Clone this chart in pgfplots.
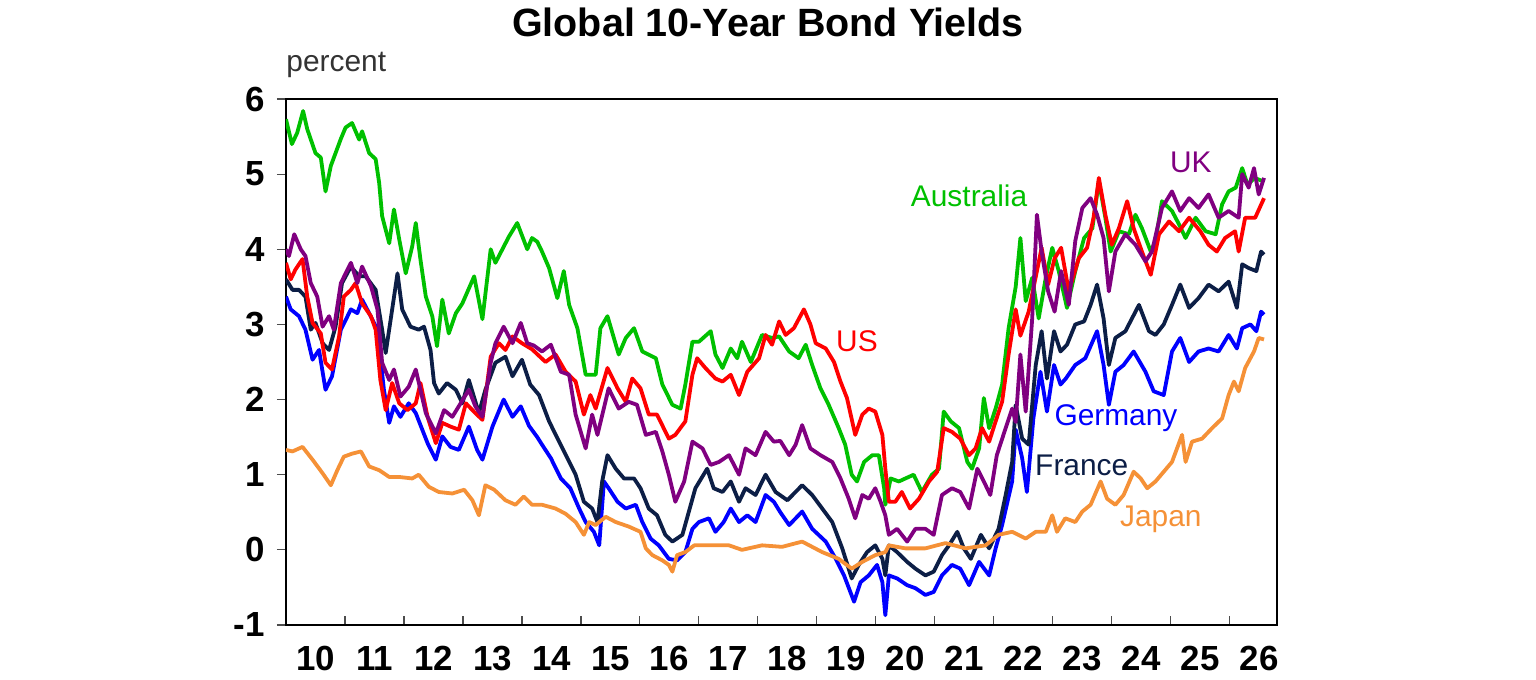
\documentclass[border=0pt]{standalone}
\usepackage{fontspec}
\setmainfont{Liberation Sans}
\usepackage{pgfplots}
\pgfplotsset{compat=1.18}

\definecolor{ausgreen}{RGB}{0,192,0}
\definecolor{usred}{RGB}{255,0,0}
\definecolor{ukpurple}{RGB}{128,0,128}
\definecolor{frnavy}{RGB}{12,30,70}
\definecolor{deblue}{RGB}{0,0,255}
\definecolor{jporange}{RGB}{245,145,55}

\begin{document}
\begin{tikzpicture}
\path[use as bounding box] (-143bp,-27.5bp) rectangle (625bp,312.5bp);

\node[anchor=base, inner sep=0pt, font=\bfseries\fontsize{19.8}{19.8}\selectfont] at (241bp,294bp) {Global 10-Year Bond Yields};
\node[anchor=base west, inner sep=0pt, text=black!80, font=\fontsize{15}{15}\selectfont] at (0bp,276.6bp) {percent};

\begin{axis}[
    scale only axis,
    width=495.5bp, height=263bp,
    at={(0,0)}, anchor=south west,
    xmin=2010, xmax=2026.8,
    ymin=-1, ymax=6,
    axis line style={line width=0.8bp, black},
    xtick={2010,...,2026},
    xticklabels={10,11,12,13,14,15,16,17,18,19,20,21,22,23,24,25,26},
    ytick={-1,0,...,6},
    yticklabels={-1,0,1,2,3,4,5,6},
    xtick pos=bottom, ytick pos=left,
    tick align=inside,
    major tick length=4.5bp,
    tick style={line width=0.6bp, black!70},
    ytick style={xshift=-4.5bp},
    ticklabel style={font=\bfseries\fontsize{17.5}{17.5}\selectfont},
    xticklabel style={xshift=14.75bp, yshift=-7bp},
    yticklabel style={xshift=-7bp},
    every axis plot/.append style={no markers, line width=1.9bp, line join=round},
    clip=true,
]

% Germany
\addplot[deblue] coordinates {(2010.0,3.37)(2010.08,3.2)(2010.22,3.11)(2010.33,2.93)(2010.45,2.53)(2010.56,2.66)(2010.67,2.13)(2010.78,2.31)(2010.93,2.93)(2011.1,3.2)(2011.21,3.15)(2011.29,3.33)(2011.41,3.15)(2011.55,2.93)(2011.66,2.13)(2011.75,1.69)(2011.83,1.91)(2011.94,1.77)(2012.08,1.95)(2012.2,1.82)(2012.4,1.42)(2012.54,1.2)(2012.65,1.51)(2012.79,1.37)(2012.93,1.33)(2013.1,1.64)(2013.24,1.33)(2013.33,1.2)(2013.5,1.64)(2013.69,2.0)(2013.84,1.77)(2013.98,1.91)(2014.12,1.65)(2014.26,1.5)(2014.34,1.4)(2014.49,1.22)(2014.66,0.95)(2014.82,0.82)(2014.97,0.55)(2015.08,0.37)(2015.22,0.24)(2015.31,0.06)(2015.39,0.91)(2015.47,0.82)(2015.62,0.64)(2015.76,0.55)(2015.93,0.6)(2016.04,0.37)(2016.18,0.15)(2016.32,0.06)(2016.49,-0.12)(2016.63,-0.14)(2016.77,-0.03)(2016.89,0.28)(2017.0,0.37)(2017.17,0.42)(2017.28,0.24)(2017.42,0.37)(2017.54,0.55)(2017.68,0.37)(2017.82,0.46)(2017.96,0.37)(2018.13,0.73)(2018.27,0.64)(2018.38,0.5)(2018.53,0.33)(2018.75,0.51)(2018.92,0.28)(2019.15,0.11)(2019.32,-0.12)(2019.46,-0.34)(2019.63,-0.69)(2019.74,-0.43)(2019.88,-0.34)(2020.02,-0.2)(2020.11,-0.43)(2020.16,-0.87)(2020.22,-0.34)(2020.36,-0.38)(2020.53,-0.47)(2020.67,-0.51)(2020.84,-0.6)(2020.98,-0.56)(2021.12,-0.34)(2021.29,-0.2)(2021.43,-0.25)(2021.58,-0.47)(2021.75,-0.16)(2021.92,-0.34)(2022.03,0.02)(2022.14,0.33)(2022.31,0.91)(2022.37,1.6)(2022.48,1.22)(2022.56,0.77)(2022.67,1.75)(2022.79,2.37)(2022.9,1.84)(2023.02,2.46)(2023.13,2.2)(2023.22,2.28)(2023.38,2.46)(2023.55,2.55)(2023.75,2.91)(2023.86,2.46)(2023.95,1.93)(2024.06,2.37)(2024.2,2.46)(2024.37,2.64)(2024.57,2.37)(2024.71,2.11)(2024.88,2.06)(2025.02,2.64)(2025.16,2.82)(2025.31,2.5)(2025.47,2.64)(2025.64,2.68)(2025.81,2.64)(2025.98,2.86)(2026.12,2.68)(2026.21,2.95)(2026.35,3.0)(2026.45,2.91)(2026.53,3.17)(2026.58,3.13)};

% France
\addplot[frnavy] coordinates {(2010.0,3.6)(2010.11,3.46)(2010.22,3.46)(2010.33,3.37)(2010.42,2.93)(2010.5,3.02)(2010.62,2.75)(2010.73,2.66)(2010.84,2.97)(2010.95,3.55)(2011.1,3.77)(2011.24,3.64)(2011.35,3.64)(2011.52,3.46)(2011.63,2.93)(2011.69,2.62)(2011.8,3.2)(2011.89,3.68)(2011.97,3.2)(2012.11,2.97)(2012.25,2.93)(2012.34,2.97)(2012.45,2.66)(2012.51,2.22)(2012.59,2.08)(2012.73,2.22)(2012.88,2.13)(2012.99,1.95)(2013.1,2.26)(2013.27,1.82)(2013.38,2.13)(2013.55,2.49)(2013.72,2.57)(2013.84,2.31)(2014.0,2.53)(2014.14,2.2)(2014.29,2.06)(2014.46,1.71)(2014.63,1.44)(2014.77,1.22)(2014.91,1.0)(2015.05,0.64)(2015.19,0.55)(2015.28,0.37)(2015.36,0.91)(2015.45,1.26)(2015.59,1.08)(2015.73,0.95)(2015.9,0.95)(2016.01,0.82)(2016.15,0.55)(2016.29,0.46)(2016.43,0.2)(2016.55,0.11)(2016.72,0.2)(2016.83,0.51)(2016.94,0.82)(2017.14,1.08)(2017.25,0.82)(2017.4,0.77)(2017.54,0.91)(2017.68,0.64)(2017.79,0.82)(2017.96,0.73)(2018.13,1.0)(2018.3,0.77)(2018.5,0.66)(2018.75,0.86)(2018.92,0.73)(2019.09,0.55)(2019.26,0.37)(2019.43,0.02)(2019.59,-0.38)(2019.71,-0.2)(2019.85,-0.03)(2019.99,0.06)(2020.11,-0.12)(2020.16,-0.34)(2020.22,0.06)(2020.36,-0.03)(2020.53,-0.16)(2020.67,-0.25)(2020.84,-0.34)(2020.98,-0.29)(2021.12,-0.07)(2021.24,0.06)(2021.38,0.24)(2021.49,0.02)(2021.61,-0.12)(2021.78,0.2)(2021.92,0.02)(2022.08,0.28)(2022.2,0.73)(2022.31,1.17)(2022.37,1.93)(2022.48,1.48)(2022.59,1.4)(2022.71,2.46)(2022.81,2.91)(2022.9,2.28)(2023.02,2.91)(2023.13,2.64)(2023.24,2.73)(2023.38,3.0)(2023.53,3.04)(2023.64,3.26)(2023.75,3.53)(2023.86,3.08)(2023.95,2.46)(2024.06,2.82)(2024.23,2.91)(2024.46,3.26)(2024.63,2.91)(2024.74,2.86)(2024.88,3.0)(2025.02,3.26)(2025.16,3.53)(2025.31,3.22)(2025.47,3.35)(2025.64,3.53)(2025.81,3.44)(2025.98,3.57)(2026.12,3.22)(2026.21,3.8)(2026.32,3.75)(2026.45,3.71)(2026.53,3.97)(2026.58,3.93)};

% Japan
\addplot[jporange] coordinates {(2010.0,1.33)(2010.11,1.31)(2010.28,1.37)(2010.45,1.2)(2010.62,1.02)(2010.76,0.86)(2010.87,1.06)(2010.98,1.24)(2011.12,1.28)(2011.27,1.31)(2011.41,1.11)(2011.58,1.06)(2011.75,0.97)(2011.92,0.97)(2012.14,0.95)(2012.25,1.0)(2012.42,0.84)(2012.59,0.77)(2012.82,0.75)(2013.02,0.8)(2013.16,0.66)(2013.27,0.46)(2013.38,0.86)(2013.53,0.8)(2013.72,0.66)(2013.89,0.6)(2014.03,0.71)(2014.17,0.6)(2014.34,0.6)(2014.57,0.55)(2014.74,0.48)(2014.91,0.37)(2015.05,0.2)(2015.14,0.37)(2015.25,0.33)(2015.42,0.44)(2015.59,0.37)(2015.81,0.31)(2016.01,0.24)(2016.1,0.02)(2016.21,-0.07)(2016.38,-0.14)(2016.49,-0.2)(2016.55,-0.29)(2016.63,-0.07)(2016.77,-0.03)(2016.92,0.06)(2017.17,0.06)(2017.51,0.06)(2017.73,0.0)(2018.07,0.06)(2018.41,0.04)(2018.75,0.11)(2019.09,-0.03)(2019.37,-0.12)(2019.59,-0.25)(2019.77,-0.16)(2019.99,-0.07)(2020.16,-0.03)(2020.22,0.06)(2020.5,0.02)(2020.84,0.02)(2021.18,0.09)(2021.52,0.02)(2021.86,0.06)(2022.08,0.2)(2022.31,0.24)(2022.54,0.15)(2022.71,0.24)(2022.88,0.24)(2022.99,0.46)(2023.07,0.24)(2023.21,0.42)(2023.38,0.37)(2023.5,0.51)(2023.64,0.6)(2023.81,0.91)(2023.92,0.68)(2024.06,0.6)(2024.2,0.73)(2024.37,1.04)(2024.49,0.95)(2024.6,0.82)(2024.74,0.91)(2024.88,1.04)(2025.02,1.17)(2025.19,1.53)(2025.25,1.17)(2025.36,1.44)(2025.53,1.48)(2025.7,1.62)(2025.87,1.75)(2025.98,2.06)(2026.07,2.24)(2026.15,2.11)(2026.26,2.42)(2026.41,2.64)(2026.49,2.82)(2026.58,2.8)};

% Australia
\addplot[ausgreen] coordinates {(2010.0,5.73)(2010.1,5.40)(2010.19,5.55)(2010.29,5.84)(2010.36,5.60)(2010.5,5.28)(2010.59,5.22)(2010.67,4.77)(2010.76,5.11)(2010.93,5.47)(2011.01,5.62)(2011.12,5.68)(2011.24,5.46)(2011.29,5.57)(2011.41,5.28)(2011.52,5.2)(2011.58,4.88)(2011.63,4.44)(2011.75,4.08)(2011.83,4.53)(2011.92,4.13)(2012.03,3.68)(2012.14,4.04)(2012.2,4.35)(2012.28,3.86)(2012.37,3.37)(2012.48,3.11)(2012.56,2.71)(2012.65,3.33)(2012.76,2.88)(2012.88,3.15)(2012.99,3.28)(2013.19,3.64)(2013.33,3.07)(2013.47,4.0)(2013.55,3.82)(2013.78,4.17)(2013.92,4.35)(2014.09,4.0)(2014.17,4.15)(2014.26,4.1)(2014.34,3.97)(2014.46,3.75)(2014.6,3.35)(2014.71,3.71)(2014.8,3.26)(2014.94,2.95)(2015.08,2.33)(2015.25,2.33)(2015.33,2.95)(2015.45,3.11)(2015.64,2.6)(2015.76,2.82)(2015.9,2.95)(2016.04,2.64)(2016.27,2.55)(2016.38,2.2)(2016.55,1.93)(2016.69,1.88)(2016.77,2.2)(2016.89,2.77)(2017.0,2.77)(2017.2,2.91)(2017.28,2.6)(2017.4,2.42)(2017.54,2.68)(2017.65,2.55)(2017.73,2.77)(2017.88,2.5)(2018.07,2.86)(2018.24,2.82)(2018.36,2.84)(2018.53,2.64)(2018.69,2.55)(2018.81,2.73)(2018.92,2.46)(2019.06,2.15)(2019.2,1.93)(2019.37,1.62)(2019.48,1.4)(2019.59,1.0)(2019.68,0.91)(2019.8,1.17)(2019.94,1.26)(2020.05,1.26)(2020.14,0.82)(2020.16,0.6)(2020.25,0.95)(2020.39,0.91)(2020.5,0.95)(2020.64,1.0)(2020.78,0.77)(2020.95,1.0)(2021.07,1.08)(2021.15,1.84)(2021.27,1.71)(2021.41,1.62)(2021.55,1.17)(2021.63,1.08)(2021.75,1.35)(2021.83,2.02)(2021.92,1.62)(2022.03,1.88)(2022.14,2.2)(2022.25,2.95)(2022.37,3.5)(2022.45,4.15)(2022.54,3.31)(2022.65,3.62)(2022.76,3.08)(2022.88,3.62)(2022.99,4.02)(2023.1,3.71)(2023.24,3.22)(2023.38,3.71)(2023.53,4.15)(2023.67,4.28)(2023.78,4.91)(2023.89,4.42)(2023.98,3.97)(2024.12,4.24)(2024.29,4.2)(2024.4,4.46)(2024.51,4.28)(2024.66,3.97)(2024.74,4.11)(2024.85,4.64)(2025.02,4.51)(2025.14,4.33)(2025.25,4.15)(2025.42,4.42)(2025.59,4.24)(2025.76,4.2)(2025.87,4.6)(2025.98,4.77)(2026.1,4.82)(2026.21,5.08)(2026.3,4.86)(2026.42,4.95)(2026.58,4.9)};

% US
\addplot[usred] coordinates {(2010.0,3.82)(2010.08,3.6)(2010.16,3.73)(2010.28,3.87)(2010.36,3.37)(2010.45,3.02)(2010.59,2.88)(2010.67,2.49)(2010.78,2.4)(2010.9,2.84)(2010.98,3.37)(2011.1,3.46)(2011.18,3.55)(2011.29,3.28)(2011.44,3.11)(2011.52,2.93)(2011.6,2.26)(2011.69,1.86)(2011.8,2.22)(2011.92,1.95)(2012.06,1.86)(2012.2,1.95)(2012.28,2.22)(2012.4,1.77)(2012.54,1.42)(2012.65,1.69)(2012.79,1.64)(2012.93,1.6)(2013.05,1.95)(2013.21,1.82)(2013.33,1.73)(2013.47,2.57)(2013.61,2.75)(2013.72,2.66)(2013.84,2.84)(2014.0,2.75)(2014.17,2.67)(2014.4,2.5)(2014.57,2.6)(2014.74,2.37)(2014.91,2.24)(2015.05,1.8)(2015.16,2.06)(2015.25,1.88)(2015.45,2.42)(2015.62,2.15)(2015.76,1.97)(2015.87,2.28)(2016.01,2.15)(2016.15,1.8)(2016.29,1.8)(2016.49,1.48)(2016.6,1.53)(2016.77,1.71)(2016.89,2.33)(2016.97,2.55)(2017.11,2.42)(2017.28,2.28)(2017.4,2.24)(2017.54,2.33)(2017.68,2.06)(2017.82,2.37)(2018.02,2.55)(2018.13,2.86)(2018.24,2.73)(2018.36,3.04)(2018.47,2.86)(2018.61,2.95)(2018.78,3.2)(2018.89,3.0)(2018.98,2.75)(2019.15,2.68)(2019.29,2.5)(2019.4,2.24)(2019.51,2.02)(2019.65,1.53)(2019.77,1.8)(2019.88,1.88)(2019.99,1.84)(2020.11,1.53)(2020.16,1.08)(2020.22,0.64)(2020.33,0.64)(2020.44,0.77)(2020.58,0.55)(2020.73,0.68)(2020.9,0.91)(2021.04,1.04)(2021.15,1.62)(2021.29,1.57)(2021.43,1.48)(2021.58,1.26)(2021.69,1.35)(2021.8,1.62)(2021.92,1.44)(2022.03,1.71)(2022.14,1.97)(2022.25,2.6)(2022.37,3.2)(2022.45,2.85)(2022.59,3.17)(2022.73,3.71)(2022.81,4.02)(2022.92,3.53)(2023.03,3.88)(2023.14,4.02)(2023.27,3.44)(2023.44,3.88)(2023.58,4.02)(2023.69,4.42)(2023.78,4.95)(2023.89,4.46)(2024.0,4.06)(2024.12,4.28)(2024.26,4.64)(2024.37,4.28)(2024.51,3.97)(2024.66,3.66)(2024.8,4.2)(2024.97,4.37)(2025.14,4.24)(2025.31,4.42)(2025.5,4.24)(2025.64,4.06)(2025.78,3.97)(2025.92,4.15)(2026.09,4.24)(2026.15,3.97)(2026.26,4.42)(2026.43,4.42)(2026.58,4.68)};

% UK
\addplot[ukpurple] coordinates {(2010.0,4.0)(2010.05,3.91)(2010.14,4.2)(2010.25,4.0)(2010.33,3.91)(2010.42,3.55)(2010.53,3.37)(2010.62,2.97)(2010.73,3.11)(2010.81,2.93)(2010.93,3.55)(2011.1,3.82)(2011.21,3.55)(2011.29,3.77)(2011.44,3.51)(2011.55,3.2)(2011.63,2.49)(2011.75,2.26)(2011.83,2.4)(2011.94,2.04)(2012.08,2.17)(2012.2,2.4)(2012.37,1.82)(2012.54,1.55)(2012.68,1.86)(2012.82,1.77)(2012.96,1.95)(2013.1,2.13)(2013.21,1.91)(2013.33,1.77)(2013.47,2.49)(2013.55,2.75)(2013.69,2.97)(2013.84,2.75)(2013.98,3.02)(2014.09,2.75)(2014.2,2.72)(2014.34,2.64)(2014.49,2.73)(2014.66,2.37)(2014.8,2.33)(2014.91,1.8)(2015.08,1.35)(2015.19,1.8)(2015.28,1.53)(2015.47,2.15)(2015.64,1.88)(2015.81,1.97)(2015.95,1.93)(2016.1,1.53)(2016.27,1.57)(2016.38,1.31)(2016.49,1.0)(2016.6,0.64)(2016.75,0.91)(2016.89,1.44)(2017.06,1.35)(2017.2,1.13)(2017.34,1.17)(2017.51,1.26)(2017.68,1.0)(2017.79,1.35)(2017.96,1.26)(2018.13,1.57)(2018.27,1.44)(2018.38,1.45)(2018.53,1.26)(2018.64,1.4)(2018.75,1.66)(2018.89,1.35)(2019.06,1.26)(2019.26,1.17)(2019.4,0.95)(2019.54,0.68)(2019.65,0.42)(2019.77,0.73)(2019.88,0.68)(2019.99,0.82)(2020.08,0.64)(2020.16,0.46)(2020.22,0.2)(2020.36,0.28)(2020.53,0.11)(2020.67,0.28)(2020.84,0.28)(2020.98,0.2)(2021.12,0.73)(2021.29,0.82)(2021.43,0.77)(2021.58,0.55)(2021.72,1.08)(2021.83,0.91)(2021.94,0.73)(2022.05,1.26)(2022.2,1.62)(2022.31,1.88)(2022.37,1.7)(2022.45,2.6)(2022.54,1.84)(2022.65,3.08)(2022.73,4.46)(2022.81,3.97)(2022.92,3.44)(2023.03,3.17)(2023.14,3.71)(2023.27,3.26)(2023.38,4.11)(2023.5,4.55)(2023.64,4.68)(2023.75,4.46)(2023.86,4.15)(2023.95,3.44)(2024.06,3.97)(2024.23,4.2)(2024.4,4.06)(2024.57,3.84)(2024.68,3.97)(2024.85,4.55)(2025.02,4.77)(2025.16,4.51)(2025.31,4.68)(2025.47,4.55)(2025.64,4.73)(2025.81,4.42)(2025.98,4.51)(2026.15,4.42)(2026.21,5.0)(2026.32,4.82)(2026.41,5.08)(2026.49,4.73)(2026.58,4.95)};

\begin{scope}[every node/.style={inner sep=0pt, font=\fontsize{15}{15}\selectfont}]
\node[text=ausgreen] at (axis cs:2021.58,4.71) {Australia};
\node[text=usred] at (axis cs:2019.68,2.77) {US};
\node[text=ukpurple] at (axis cs:2025.34,5.16) {UK};
\node[text=deblue] at (axis cs:2024.07,1.75) {Germany};
\node[text=frnavy] at (axis cs:2023.49,1.12) {France};
\node[text=jporange] at (axis cs:2024.83,0.41) {Japan};
\end{scope}
\end{axis}
\end{tikzpicture}
\end{document}
